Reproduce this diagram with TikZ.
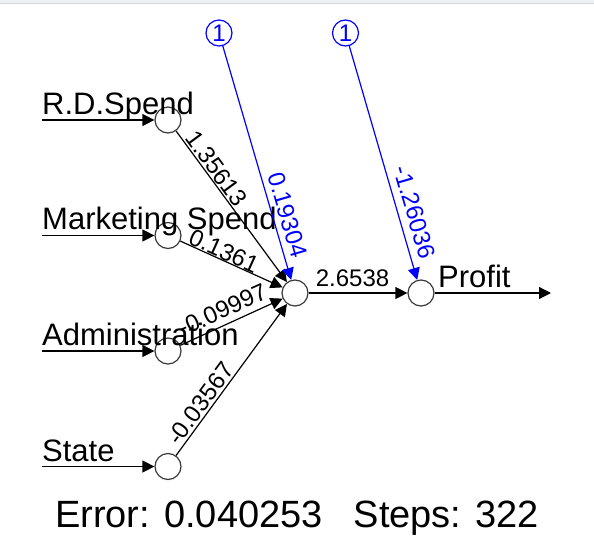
\documentclass[tikz,border=0pt]{standalone}
\usepackage{fontspec}
\setmainfont{Liberation Sans}
\usetikzlibrary{arrows.meta}
\definecolor{bandgray}{HTML}{EEF1F3}
\definecolor{bandline}{HTML}{D3D7DA}
\definecolor{nodegray}{HTML}{3A3A3A}
\definecolor{biasblue}{RGB}{0,0,255}
\tikzset{
  neuron/.style={circle, draw=nodegray, line width=1.2pt, minimum size=26pt, inner sep=0pt, fill=white},
  biasnode/.style={circle, draw=biasblue, line width=1.2pt, minimum size=26pt, inner sep=0pt, text=biasblue, font=\fontsize{24}{28}\selectfont},
  conn/.style={line width=1.2pt, -{Triangle[length=12pt,width=12pt]}},
  bconn/.style={conn, draw=biasblue, biasblue},
  wlabel/.style={sloped, anchor=south, inner xsep=0pt, font=\fontsize{24}{28}\selectfont},
  inlabel/.style={anchor=base west, inner sep=0pt, font=\fontsize{31}{37}\selectfont}
}
\begin{document}
\begin{tikzpicture}[x=1pt, y=-1pt]
\useasboundingbox (0,0) rectangle (594,551);
\fill[bandgray] (0,0) rectangle (594,3.5);
\draw[bandline, line width=1pt] (0,4) -- (594,4);

% neurons
\node[neuron] (in1) at (168,120) {};
\node[neuron] (in2) at (168,235.5) {};
\node[neuron] (in3) at (168,351) {};
\node[neuron] (in4) at (168,466.5) {};
\node[neuron] (hid) at (295,293) {};
\node[neuron] (out) at (421,293) {};
\node[biasnode] (b1) at (219,33) {1};
\node[biasnode] (b2) at (345.5,33) {1};

% free ends
\coordinate (s1) at (42,120);
\coordinate (s2) at (42,235.5);
\coordinate (s3) at (42,351);
\coordinate (s4) at (42,466.5);
\coordinate (e1) at (551,293);

% input labels
\node[inlabel] (l1) at (42,114) {R.D.Spend};
\node[inlabel] (l2) at (42,229.5) {Marketing Spend};
\node[inlabel] (l3) at (42,345) {Administration};
\node[inlabel] (l4) at (42,461) {State};
\node[inlabel] (lp) at (438,287) {Profit};

% input arrows
\draw[conn] (s1) -- (in1);
\draw[conn] (s2) -- (in2);
\draw[conn] (s3) -- (in3);
\draw[conn] (s4) -- (in4);

% weights to hidden
\draw[conn] (in1) -- (hid) node[wlabel, pos=0.29, inner ysep=1.4pt] (w1) {1.35613};
\draw[conn] (in2) -- (hid) node[wlabel, pos=0.39, inner ysep=0pt] (w2) {0.1361};
\draw[conn] (in3) -- (hid) node[wlabel, pos=0.47, inner ysep=6pt] (w3) {-0.09997};
\draw[conn] (in4) -- (hid) node[wlabel, pos=0.30, inner ysep=2pt] (w4) {-0.03567};

% hidden to output
\draw[conn] (hid) -- (out) node[wlabel, pos=0.445, inner ysep=5.4pt] (w5) {2.6538};
\draw[conn] (out) -- (e1);

% bias
\draw[bconn] (b1) -- (hid) node[wlabel, pos=0.74, inner ysep=5.7pt] (w6) {0.19304};
\draw[bconn] (b2) -- (out) node[wlabel, pos=0.73, inner ysep=7.5pt] (w7) {-1.26036};

% bottom text
\node[anchor=base west, inner sep=0pt, font=\fontsize{38}{44}\selectfont] (err) at (55,527) {Error: 0.040253\hspace{31pt}Steps: 322};
\end{tikzpicture}
\end{document}
